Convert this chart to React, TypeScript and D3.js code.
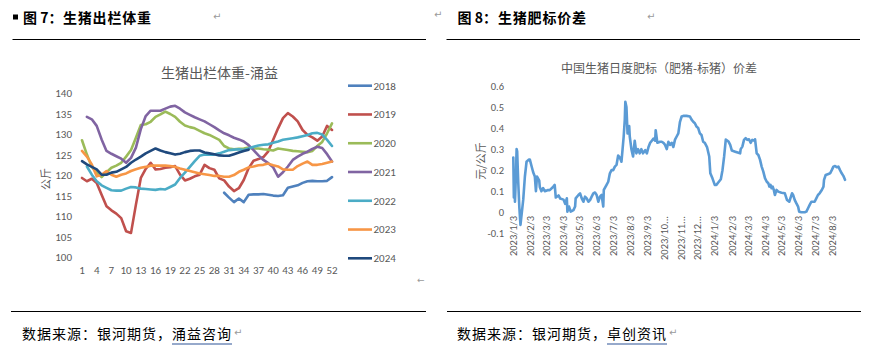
import React from 'react';
import * as d3 from 'd3';

// ---------- Left chart data: 生猪出栏体重-涌益 (kg, by week) ----------
const weeks = Array.from({ length: 52 }, (_, i) => i + 1);
const weekTicks = [1, 4, 7, 10, 13, 16, 19, 22, 25, 28, 31, 34, 37, 40, 43, 46, 49, 52];
const weightTicks = [100, 105, 110, 115, 120, 125, 130, 135, 140];
const seriesYears = ['2018', '2019', '2020', '2021', '2022', '2023', '2024'];

const N = null;
const w2018 = [N, N, N, N, N, N, N, N, N, N, N, N, N, N, N, N, N, N, N, N, N, N, N, N, N, N, N, N, N,
  115.8, 114.6, 113.5, 114.4, 113.5, 115.3, 115.4, 115.4, 115.5, 115.3, 115.1, 115.0, 115.2, 117.0, 117.3,
  117.6, 118.2, 118.6, 118.7, 118.6, 118.6, 118.7, 119.6];
const w2019 = [119.4, 118.6, 119.2, 118.2, 115.3, 112.5, 111.5, 110.7, 109.6, 106.4, 106.0, 112.9,
  119.4, 121.6, 123.1, 121.5, 121.6, 121.9, 122.0, 122.3, 120.2, 118.8, 119.2, 119.8,
  120.2, 122.6, 121.8, 121.4, 119.3, 118.8, 117.3, 116.2, 116.9, 118.9, 121.8, 123.6,
  124.0, 124.5, 125.9, 128.7, 131.5, 134.0, 135.2, 134.4, 133.2, 131.1, 129.9, 129.3,
  128.5, 129.5, 132.1, 131.1];
const w2020 = [128.6, 125.1, 122.1, 120.7, 119.6, 120.8, 121.9, 122.4, 123.1, 124.6, 126.2, 129.2,
  132.3, 132.5, 133.1, 134.3, 134.9, 135.6, 135.0, 134.3, 133.1, 132.2, 131.8, 131.5,
  130.9, 130.3, 129.9, 129.3, 128.7, 127.2, 126.6, 126.4, 126.5, 126.6, 126.8, 126.6,
  126.6, 126.4, 126.3, 126.1, 126.6, 126.4, 126.2, 126.0, 125.9, 125.8, 125.7, 126.0,
  127.2, 128.2, 130.3, 132.7];
const w2021 = [N, 134.3, 133.7, 132.1, 128.8, 126.0, 125.3, 124.7, 124.1, 123.1, 124.3, 126.8, 131.3,
  134.5, 135.8, 135.8, 135.8, 136.3, 136.8, 137.0, 136.3, 135.4, 134.8, 134.2, 133.7,
  133.2, 132.5, 131.8, 131.0, 130.3, 129.8, 129.2, 128.8, 128.3, 127.4, 126.2, 124.9,
  123.8, 123.0, 122.0, 119.7, 120.8, 122.2, 123.8, 124.6, 125.3, 125.8, 126.5, 127.0,
  126.7, 125.2, 123.4];
const w2022 = [N, 122.2, 120.2, 118.6, 117.6, 117.0, 116.4, 116.3, 116.3, 116.8, 117.2, 117.1, 116.8,
  116.7, 116.6, 116.5, 116.7, 116.6, 117.2, 117.8, 119.4, 120.7, 122.1, 123.5, 124.8,
  125.1, 125.1, 125.1, 125.4, 125.8, 126.2, 126.3, 126.4, 126.2, 126.6, 127.0, 127.3,
  127.5, 127.6, 128.0, 128.3, 128.7, 128.9, 129.1, 129.3, 129.6, 129.9, 130.3, 130.4,
  130.0, 128.7, 127.2];
const w2023 = [126.0, 124.6, 122.7, 119.8, 120.2, 121.1, 120.2, 119.7, 120.2, 120.5, 121.1, 121.5,
  121.9, 122.1, 122.4, 122.4, 122.4, 122.4, 122.3, 122.1, 121.7, 121.4, 121.1, 120.8,
  120.5, 120.3, 120.1, 119.9, 119.9, 119.7, 119.7, 120.1, 120.9, 121.4, 122.0, 122.2,
  122.5, 122.6, 122.9, 122.5, 122.2, 121.5, 121.4, 121.4, 122.3, 122.9, 123.4, 122.6,
  122.6, 122.8, 123.1, 123.4];
const w2024 = [123.5, 122.7, 122.1, 121.5, 120.2, 120.2, 120.7, 120.9, 121.5, 122.1, 123.1, 123.9,
  124.6, 125.4, 126.0, 126.6, 126.1, 125.7, 125.4, 125.1, 125.3, 125.7, 126.0, 126.1,
  126.1, 125.6, 125.4, 125.2, 124.9, 124.8, 124.8, 125.2, 125.6, 126.0, 126.3,
  N, N, N, N, N, N, N, N, N, N, N, N, N, N, N, N, N];

// ---------- Right chart data: 中国生猪日度肥标价差 (元/公斤) ----------
const spreadDates = [
  '2023-01-03', '2023-01-04', '2023-01-05', '2023-01-06', '2023-01-07', '2023-01-08', '2023-01-09', '2023-01-10',
  '2023-01-12', '2023-01-14', '2023-01-16', '2023-01-21', '2023-01-24', '2023-01-27', '2023-01-31', '2023-02-02',
  '2023-02-05', '2023-02-08', '2023-02-11', '2023-02-13', '2023-02-15', '2023-02-19', '2023-02-20', '2023-02-23',
  '2023-02-26', '2023-03-01', '2023-03-06', '2023-03-10', '2023-03-16', '2023-03-19', '2023-03-21', '2023-03-26',
  '2023-03-29', '2023-04-04', '2023-04-07', '2023-04-10', '2023-04-11', '2023-04-14', '2023-04-17', '2023-04-22',
  '2023-04-25', '2023-04-26', '2023-05-01', '2023-05-04', '2023-05-07', '2023-05-10', '2023-05-13', '2023-05-16',
  '2023-05-19', '2023-05-22', '2023-05-25', '2023-05-28', '2023-05-31', '2023-06-03', '2023-06-06', '2023-06-09',
  '2023-06-12', '2023-06-15', '2023-06-16', '2023-06-21', '2023-06-24', '2023-06-27', '2023-06-30', '2023-07-03',
  '2023-07-06', '2023-07-09', '2023-07-12', '2023-07-15', '2023-07-18', '2023-07-20', '2023-07-22', '2023-07-24',
  '2023-07-25', '2023-07-27', '2023-07-29', '2023-08-01', '2023-08-02', '2023-08-05', '2023-08-08', '2023-08-11',
  '2023-08-14', '2023-08-17', '2023-08-20', '2023-08-23', '2023-08-26', '2023-08-30', '2023-09-02', '2023-09-05',
  '2023-09-08', '2023-09-11', '2023-09-14', '2023-09-17', '2023-09-18', '2023-09-21', '2023-09-26', '2023-09-29',
  '2023-10-02', '2023-10-05', '2023-10-08', '2023-10-11', '2023-10-14', '2023-10-17', '2023-10-20', '2023-10-23',
  '2023-10-26', '2023-10-29', '2023-11-01', '2023-11-04', '2023-11-07', '2023-11-13', '2023-11-19', '2023-11-22',
  '2023-11-25', '2023-11-28', '2023-12-01', '2023-12-04', '2023-12-07', '2023-12-10', '2023-12-13', '2023-12-16',
  '2023-12-20', '2023-12-24', '2023-12-26', '2023-12-30', '2024-01-03', '2024-01-06', '2024-01-09', '2024-01-14',
  '2024-01-17', '2024-01-20', '2024-01-23', '2024-01-28', '2024-01-31', '2024-02-03', '2024-02-09', '2024-02-15',
  '2024-02-18', '2024-02-19', '2024-02-22', '2024-02-25', '2024-02-28', '2024-03-02', '2024-03-05', '2024-03-08',
  '2024-03-11', '2024-03-15', '2024-03-16', '2024-03-19', '2024-03-22', '2024-03-25', '2024-03-28', '2024-03-31',
  '2024-04-03', '2024-04-06', '2024-04-09', '2024-04-11', '2024-04-13', '2024-04-15', '2024-04-17', '2024-04-19',
  '2024-04-21', '2024-04-24', '2024-04-27', '2024-05-03', '2024-05-09', '2024-05-13', '2024-05-17', '2024-05-19',
  '2024-05-22', '2024-05-24', '2024-05-27', '2024-05-30', '2024-06-02', '2024-06-04', '2024-06-08', '2024-06-14',
  '2024-06-17', '2024-06-20', '2024-06-23', '2024-06-26', '2024-07-02', '2024-07-05', '2024-07-08', '2024-07-11',
  '2024-07-15', '2024-07-18', '2024-07-19', '2024-07-22', '2024-07-27', '2024-07-30', '2024-08-02', '2024-08-05',
  '2024-08-08', '2024-08-11', '2024-08-14', '2024-08-17', '2024-08-20', '2024-08-23', '2024-08-26',
];
const spreadValues = [
  0.26, 0.07, 0.20, 0.05, 0.12, 0.20, 0.30, 0.29,
  0.14, 0.02, -0.06, 0.06, 0.17, 0.24, 0.25, 0.25,
  0.22, 0.19, 0.17, 0.10, 0.17, 0.15, 0.12, 0.10,
  0.115, 0.10, 0.105, 0.105, 0.12, 0.13, 0.07, 0.08,
  0.065, 0.06, 0.04, 0.066, 0.003, 0.027, 0.003, 0.01,
  0.027, 0.066, 0.082, 0.09, 0.066, 0.05, 0.074, 0.066,
  0.05, 0.058, 0.074, 0.09, 0.094, 0.082, 0.05, 0.074,
  0.082, 0.027, 0.106, 0.13, 0.145, 0.185, 0.20, 0.20,
  0.217, 0.225, 0.27, 0.26, 0.24, 0.30, 0.36, 0.44,
  0.525, 0.50, 0.375, 0.41, 0.36, 0.30, 0.265, 0.34,
  0.28, 0.30, 0.28, 0.30, 0.28, 0.295, 0.28, 0.31,
  0.33, 0.34, 0.35, 0.34, 0.39, 0.33, 0.335, 0.335,
  0.33, 0.32, 0.30, 0.335, 0.32, 0.33, 0.31, 0.345,
  0.36, 0.375, 0.43, 0.455, 0.458, 0.458, 0.455, 0.44,
  0.43, 0.423, 0.407, 0.40, 0.375, 0.367, 0.335, 0.33,
  0.31, 0.265, 0.185, 0.16, 0.13, 0.13, 0.14, 0.157,
  0.20, 0.265, 0.345, 0.336, 0.32, 0.293, 0.288, 0.283,
  0.28, 0.30, 0.312, 0.344, 0.352, 0.344, 0.347, 0.33,
  0.344, 0.34, 0.347, 0.28, 0.272, 0.25, 0.217, 0.193,
  0.162, 0.146, 0.138, 0.122, 0.13, 0.114, 0.122, 0.106,
  0.082, 0.106, 0.098, 0.093, 0.09, 0.058, 0.05, 0.066,
  0.09, 0.082, 0.058, 0.042, 0.027, 0.003, 0.0, 0.0,
  0.003, 0.019, 0.035, 0.05, 0.05, 0.066, 0.082, 0.09,
  0.106, 0.122, 0.154, 0.177, 0.182, 0.185, 0.20, 0.217,
  0.22, 0.214, 0.217, 0.20, 0.185, 0.173, 0.154,
];
const spreadTickDates = [
  '2023-01-03', '2023-02-03', '2023-03-03', '2023-04-03', '2023-05-03', '2023-06-03', '2023-07-03',
  '2023-08-03', '2023-09-03', '2023-10-03', '2023-11-03', '2023-12-03', '2024-01-03', '2024-02-03',
  '2024-03-03', '2024-04-03', '2024-05-03', '2024-06-03', '2024-07-03', '2024-08-03',
];
const spreadTickLabels = [
  '2023/1/3', '2023/2/3', '2023/3/3', '2023/4/3', '2023/5/3', '2023/6/3', '2023/7/3',
  '2023/8/3', '2023/9/3', '2023/10...', '2023/11...', '2023/12...', '2024/1/3', '2024/2/3',
  '2024/3/3', '2024/4/3', '2024/5/3', '2024/6/3', '2024/7/3', '2024/8/3',
];
const spreadYTicks = [-0.1, 0, 0.1, 0.2, 0.3, 0.4, 0.5, 0.6];

// ---------- styles ----------
const palette = ['#4F81BD', '#C0504D', '#9BBB59', '#8064A2', '#4BACC6', '#F79646', '#1F497D'];
const gray = '#595959';
const numFont = "Carlito, Calibri, Lato, 'Noto Sans', sans-serif";
const cjkFont = "'Noto Sans CJK SC', 'Noto Sans', sans-serif";

export default function App() {
  const series = [w2018, w2019, w2020, w2021, w2022, w2023, w2024];

  // left chart scales
  const xL = d3.scaleLinear().domain([1, 52]).range([82, 332]);
  const yL = d3.scaleLinear().domain([100, 140]).range([257.5, 93.5]);
  const lineL = d3
    .line<number | null>()
    .defined((d) => d != null)
    .x((_, i) => xL(weeks[i]))
    .y((d) => yL(d as number));

  // right chart scales
  const parse = d3.timeParse('%Y-%m-%d');
  const dates = spreadDates.map((s) => parse(s) as Date);
  const xR = d3
    .scaleTime()
    .domain([dates[0], dates[dates.length - 1]])
    .range([513.3, 845]);
  const yR = d3.scaleLinear().domain([-0.1, 0.6]).range([233.3, 86]);
  const lineR = d3
    .line<number>()
    .x((_, i) => xR(dates[i]))
    .y((d) => yR(d));

  const legendY = d3.scaleLinear().domain([0, 6]).range([85.7, 258.3]);

  return (
    <svg
      width={870}
      height={355}
      viewBox="0 0 870 355"
      style={{ position: 'absolute', left: 0, top: 0, background: '#fff' }}
    >
      <rect x={0} y={0} width={870} height={355} fill="#fff" />

      {/* ---- headers ---- */}
      <rect x={13} y={14.5} width={5} height={5} fill="#000" />
      <text x={23} y={23} fontFamily={cjkFont} fontWeight={700} fontSize={14} fill="#000">
        图 7：
      </text>
      <text x={63} y={23} fontFamily={cjkFont} fontWeight={700} fontSize={14} fill="#000" letterSpacing={0.8}>
        生猪出栏体重
      </text>
      <text x={213} y={20} fontFamily="'DejaVu Sans'" fontSize={10} fill="#9a9a9a">↵</text>
      <line x1={12.5} x2={426} y1={39.5} y2={39.5} stroke="#000" strokeWidth={1.2} />

      <text x={434} y={18} fontFamily="'DejaVu Sans'" fontSize={10} fill="#9a9a9a">↵</text>
      <text x={457.5} y={23} fontFamily={cjkFont} fontWeight={700} fontSize={14} fill="#000">
        图 8：
      </text>
      <text x={498} y={23} fontFamily={cjkFont} fontWeight={700} fontSize={14} fill="#000" letterSpacing={0.8}>
        生猪肥标价差
      </text>
      <text x={647} y={20} fontFamily="'DejaVu Sans'" fontSize={10} fill="#9a9a9a">↵</text>
      <line x1={446.5} x2={860} y1={39.5} y2={39.5} stroke="#000" strokeWidth={1.2} />

      {/* ---- left chart ---- */}
      <text x={219.5} y={77.5} textAnchor="middle" fontFamily={cjkFont} fontSize={14} fill={gray}>
        生猪出栏体重-涌益
      </text>
      {weightTicks.map((t) => (
        <text key={t} x={72} y={yL(t)} dy="0.35em" textAnchor="end" fontFamily={numFont} fontSize={11} fill={gray}>
          {t}
        </text>
      ))}
      {weekTicks.map((t) => (
        <text key={t} x={xL(t)} y={270} dy="0.35em" textAnchor="middle" fontFamily={numFont} fontSize={11} fill={gray}>
          {t}
        </text>
      ))}
      <text
        transform="translate(46,179) rotate(-90)"
        textAnchor="middle"
        dy="0.35em"
        fontFamily={cjkFont}
        fontSize={11}
        fill={gray}
      >
        公斤
      </text>
      {series.map((s, i) => (
        <path
          key={seriesYears[i]}
          d={lineL(s) || ''}
          fill="none"
          stroke={palette[i]}
          strokeWidth={2.6}
          strokeLinejoin="round"
          strokeLinecap="round"
        />
      ))}
      {seriesYears.map((yr, i) => (
        <g key={yr}>
          <line x1={348} x2={372} y1={legendY(i)} y2={legendY(i)} stroke={palette[i]} strokeWidth={2.6} />
          <text x={373.5} y={legendY(i)} dy="0.35em" fontFamily={numFont} fontSize={11} fill={gray}>
            {yr}
          </text>
        </g>
      ))}
      <text x={417} y={283} fontFamily="'DejaVu Sans'" fontSize={9} fill="#9a9a9a">←</text>

      {/* ---- right chart ---- */}
      <text x={659} y={72.5} textAnchor="middle" fontFamily={cjkFont} fontSize={12} fill={gray}>
        中国生猪日度肥标（肥猪-标猪）价差
      </text>
      {spreadYTicks.map((t) => (
        <text key={t} x={504} y={yR(t)} dy="0.35em" textAnchor="end" fontFamily={numFont} fontSize={10.5} fill={gray}>
          {t === 0 ? '0' : String(t)}
        </text>
      ))}
      <text
        transform="translate(481,161) rotate(-90)"
        textAnchor="middle"
        dy="0.35em"
        fontFamily={cjkFont}
        fontSize={11}
        fill={gray}
      >
        元/公斤
      </text>
      {spreadTickDates.map((s, i) => {
        const x = xR(parse(s) as Date);
        return (
          <text
            key={s}
            transform={`translate(${x},216) rotate(-90)`}
            dy="0.35em"
            textAnchor="end"
            fontFamily={numFont}
            fontSize={10.5}
            fill={gray}
          >
            {spreadTickLabels[i]}
          </text>
        );
      })}
      <path
        d={lineR(spreadValues) || ''}
        fill="none"
        stroke="#5B9BD5"
        strokeWidth={2.6}
        strokeLinejoin="round"
        strokeLinecap="round"
      />

      {/* ---- footers ---- */}
      <line x1={11} x2={426} y1={311.5} y2={311.5} stroke="#000" strokeWidth={1.2} />
      <line x1={447} x2={861} y1={311.5} y2={311.5} stroke="#000" strokeWidth={1.2} />
      <text x={22} y={339} fontFamily={cjkFont} fontSize={14} fill="#000" letterSpacing={1}>
        数据来源：银河期货，涌益咨询
      </text>
      <line x1={172} x2={232} y1={344} y2={344} stroke="#2F5597" strokeWidth={1.2} />
      <text x={234} y={336} fontFamily="'DejaVu Sans'" fontSize={10} fill="#9a9a9a">↵</text>
      <text x={457} y={339} fontFamily={cjkFont} fontSize={14} fill="#000" letterSpacing={1}>
        数据来源：银河期货，卓创资讯
      </text>
      <line x1={607} x2={667} y1={344} y2={344} stroke="#2F5597" strokeWidth={1.2} />
      <text x={669} y={336} fontFamily="'DejaVu Sans'" fontSize={10} fill="#9a9a9a">↵</text>
    </svg>
  );
}
